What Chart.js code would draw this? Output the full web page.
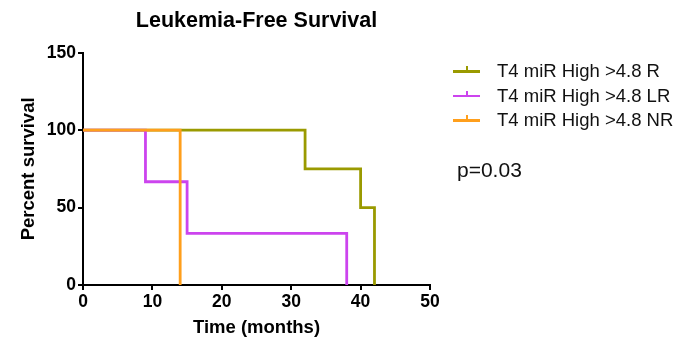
<!DOCTYPE html>
<html>
<head>
  <title>Leukemia-Free Survival</title>
  <script src="https://cdn.jsdelivr.net/npm/chart.js@4.4.0/dist/chart.umd.min.js"></script>
  <style>
    body { margin: 0; background: #fff; }
    #wrap { position: relative; width: 676px; height: 339px; font-family: Arial, 'Liberation Sans', sans-serif; }
    .item { position: absolute; left: 453px; height: 24px; font-size: 18.5px; line-height: 24px; color: #111; white-space: nowrap; }
    .item .ln { position: absolute; left: 0; top: 11px; width: 27px; height: 2.5px; }
    .item .tk { position: absolute; left: 12.5px; top: 7px; width: 2px; height: 5px; }
    .item span { position: absolute; left: 44px; top: 0; }
    #pval { position: absolute; left: 457px; top: 158px; font-size: 21px; color: #111; }
  </style>
</head>
<body>
<div id="wrap">
  <canvas id="km" width="676" height="339"></canvas>
  <div id="legend"></div>
  <div id="pval">p=0.03</div>
</div>
<script>
  var labels = ['T4 miR High >4.8 R', 'T4 miR High >4.8 LR', 'T4 miR High >4.8 NR'];
  var colors = ['#9a9a00', '#cc44ee', '#ff9f1c'];
  // survival steps: time (months) and percent survival
  var timeR = [0, 32, 40, 42];
  var survR = [100, 75, 50, 0];
  var timeLR = [0, 9, 15, 38];
  var survLR = [100, 66.7, 33.3, 0];
  var timeNR = [0, 14];
  var survNR = [100, 0];
  var xTicks = [0, 10, 20, 30, 40, 50];
  var yTicks = [0, 50, 100, 150];

  function pts(t, s) {
    return t.map(function (v, i) { return { x: v, y: s[i] }; });
  }

  var series = [pts(timeR, survR), pts(timeLR, survLR), pts(timeNR, survNR)];

  var legend = document.getElementById('legend');
  labels.forEach(function (l, i) {
    var d = document.createElement('div');
    d.className = 'item';
    d.style.top = (59 + i * 24.5) + 'px';
    d.innerHTML = '<div class="ln" style="background:' + colors[i] + '"></div>' +
      '<div class="tk" style="background:' + colors[i] + '"></div><span></span>';
    d.querySelector('span').textContent = l;
    legend.appendChild(d);
  });

  Chart.defaults.font.family = "Arial, 'Liberation Sans', sans-serif";
  Chart.defaults.color = '#000';

  var ctx = document.getElementById('km').getContext('2d');
  new Chart(ctx, {
    type: 'line',
    data: {
      datasets: series.map(function (s, i) {
        return {
          label: labels[i],
          data: s,
          borderColor: colors[i],
          backgroundColor: colors[i],
          borderWidth: 2.8,
          pointRadius: 0,
          stepped: true,
          fill: false,
          order: 3 - i
        };
      })
    },
    options: {
      responsive: false,
      animation: false,
      layout: { padding: { left: 0, right: 246, top: 0, bottom: 0 } },
      plugins: {
        legend: { display: false },
        tooltip: { enabled: false },
        title: {
          display: true,
          text: 'Leukemia-Free Survival',
          fullSize: false,
          font: { size: 21.5, weight: 'bold' },
          padding: { top: 8, bottom: 19 }
        }
      },
      scales: {
        x: {
          type: 'linear',
          min: 0,
          max: 50,
          afterBuildTicks: function (s) { s.ticks = xTicks.map(function (v) { return { value: v }; }); },
          afterFit: function (s) { s.height = 54; },
          ticks: { font: { size: 17.5, weight: 'bold' }, padding: 2, maxRotation: 0 },
          grid: { drawOnChartArea: false, drawTicks: true, tickLength: 5, color: '#000', lineWidth: 2 },
          border: { color: '#000', width: 2 },
          title: { display: true, text: 'Time (months)', font: { size: 18.5, weight: 'bold' }, padding: { top: 0, bottom: 0 } }
        },
        y: {
          type: 'linear',
          min: 0,
          max: 150,
          afterBuildTicks: function (s) { s.ticks = yTicks.map(function (v) { return { value: v }; }); },
          afterFit: function (s) { s.width = 83; },
          ticks: { font: { size: 17.5, weight: 'bold' }, padding: 2 },
          grid: { drawOnChartArea: false, drawTicks: true, tickLength: 5, color: '#000', lineWidth: 2 },
          border: { color: '#000', width: 2 },
          title: { display: true, text: 'Percent survival', font: { size: 18.5, weight: 'bold' }, padding: { top: 18, bottom: 0 } }
        }
      }
    }
  });
</script>
</body>
</html>
